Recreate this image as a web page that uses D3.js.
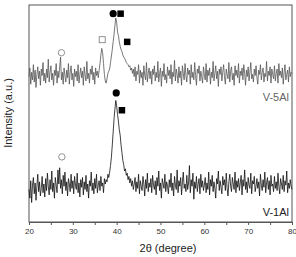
<!DOCTYPE html>
<head>
<meta charset="UTF-8">
<script src="https://d3js.org/d3.v7.min.js"></script>
<style>
  body { margin: 0; background: #fff; }
  text { font-family: "Liberation Sans", Arial, sans-serif; }
</style>
</head>
<body>
<div id="my_dataviz"></div>
<script>

// scan: 20 to 80 degrees, one reading every 0.2 degree
var angleStart = 20, angleStep = 0.2;

// V-1Al intensities (a.u.)
var v1Al = [
  30,22,38,18,34,41,26,36,20,33,44,28,37,24,31,42,27,35,23,40,
  29,45,33,25,39,30,47,28,36,22,41,34,27,48,35,50,31,39,26,43,
  33,46,29,37,24,40,35,28,44,31,38,26,42,34,30,45,27,36,23,39,
  32,41,25,37,30,43,28,35,22,38,33,46,29,36,26,40,31,44,27,34,
  38,29,42,33,36,27,40,35,39,37,44,41,46,52,60,71,83,95,104,112,
  107,99,93,85,80,71,64,57,53,47,49,43,45,39,42,36,40,33,38,30,
  35,41,28,37,31,44,26,38,33,29,42,35,24,39,31,45,28,36,32,40,
  27,43,34,30,38,25,41,33,47,29,36,22,40,35,31,44,28,37,33,26,
  39,32,45,29,36,24,42,34,30,48,27,38,33,41,25,37,46,31,35,28,
  43,30,36,52,27,39,33,45,21,37,31,42,28,35,40,26,44,32,38,29,
  34,41,27,36,30,46,25,39,33,43,28,37,31,22,40,35,47,29,38,32,
  26,42,34,39,29,45,31,24,37,44,33,28,41,35,30,46,27,38,32,40,
  29,36,43,25,39,33,48,30,37,27,41,34,31,45,26,38,35,42,28,33,
  40,31,37,24,44,34,29,39,32,46,27,36,41,30,38,25,43,33,35,28,
  42,31,37,29,45,33,26,40,35,30,43,28,38,34,47,27,36,31,39,33,
  30
];

// V-5Al intensities (a.u.), offset above V-1Al
var v5Al = [
  134,142,127,138,131,145,129,140,124,136,143,132,139,126,141,135,147,130,137,128,
  141,133,150,129,138,144,131,137,126,140,135,146,128,139,133,143,152,131,138,127,
  142,135,129,140,133,146,127,138,144,131,137,125,141,134,139,130,145,128,136,142,
  133,139,126,143,135,130,148,132,137,128,141,136,144,131,138,127,142,135,139,133,
  140,146,154,160,156,146,136,130,128,132,137,139,141,147,153,159,166,173,181,188,
  184,175,172,166,162,159,157,154,152,151,149,147,146,145,143,144,140,142,137,141,
  134,143,130,139,136,145,128,140,133,138,126,144,135,131,147,129,137,142,132,139,
  127,141,136,144,130,138,133,148,129,137,142,125,139,134,146,131,136,128,143,135,
  140,132,145,127,138,134,149,130,141,136,128,143,133,139,126,144,137,131,146,135,
  129,142,136,140,127,145,133,138,131,147,135,126,141,137,144,130,139,134,128,143,
  136,131,146,129,140,135,142,127,138,133,148,130,137,144,132,139,125,141,136,143,
  130,138,145,134,127,141,136,132,147,129,139,143,131,137,126,144,135,140,133,146,
  128,139,135,142,131,145,137,126,140,134,143,130,138,147,132,136,129,141,135,144,
  133,127,140,136,145,131,138,142,129,137,134,148,130,139,135,143,128,141,136,132,
  144,130,137,141,128,146,135,139,133,142,127,138,145,131,136,140,129,143,134,138,
  137
];

// phase markers: [angle, intensity, shape]
var markers5Al = [[27.4, 156, "openCircle"], [36.7, 168, "openSquare"], [39.2, 192, "circle"], [40.9, 192, "square"], [42.4, 166, "square"]];
var markers1Al = [[27.5, 60, "openCircle"], [39.9, 119, "circle"], [41.2, 103, "square"]];

var xTicks = [20, 25, 30, 35, 40, 45, 50, 55, 60, 65, 70, 75, 80];

var width = 296, height = 257;
var margin = {top: 5, right: 4, bottom: 35, left: 29};

var svg = d3.select("#my_dataviz")
  .append("svg")
    .attr("width", width)
    .attr("height", height);

var x = d3.scaleLinear().domain([20, 80]).range([margin.left, width - margin.right]);
var y = d3.scaleLinear().domain([0, 200]).range([height - margin.bottom, margin.top]);

// frame
svg.append("rect")
  .attr("x", x(20)).attr("y", y(200))
  .attr("width", x(80) - x(20)).attr("height", y(0) - y(200))
  .style("fill", "none").style("stroke", "#555").style("stroke-width", 1);

// x axis
var xAxis = svg.append("g")
  .attr("transform", "translate(0," + y(0) + ")")
  .call(d3.axisBottom(x).tickValues(xTicks).tickSize(3)
    .tickFormat(function(d) { return d % 10 === 0 ? d : ""; }));
xAxis.select(".domain").style("stroke", "#555");
xAxis.selectAll("line").style("stroke", "#555");
xAxis.selectAll("text")
  .style("font-family", "Liberation Sans, Arial, sans-serif")
  .style("font-size", "8px").style("fill", "#333")
  .attr("y", 6);

// line generator
var line = d3.line()
  .x(function(d, i) { return x(angleStart + i * angleStep); })
  .y(function(d) { return y(d); });

svg.append("path").datum(v5Al)
  .attr("d", line)
  .style("fill", "none").style("stroke", "#555").style("stroke-width", 0.8);

svg.append("path").datum(v1Al)
  .attr("d", line)
  .style("fill", "none").style("stroke", "#111").style("stroke-width", 0.8);

// markers
function drawMarkers(list) {
  list.forEach(function(m) {
    var cx = x(m[0]), cy = y(m[1]);
    if (m[2] === "circle" || m[2] === "openCircle") {
      svg.append("circle").attr("cx", cx).attr("cy", cy).attr("r", m[2] === "circle" ? 3.6 : 3.2)
        .style("fill", m[2] === "circle" ? "#000" : "none")
        .style("stroke", m[2] === "circle" ? "none" : "#777").style("stroke-width", 0.8);
    } else {
      var s = m[2] === "square" ? 6.5 : 6;
      svg.append("rect").attr("x", cx - s / 2).attr("y", cy - s / 2).attr("width", s).attr("height", s)
        .style("fill", m[2] === "square" ? "#000" : "none")
        .style("stroke", m[2] === "square" ? "none" : "#777").style("stroke-width", 0.8);
    }
  });
}
drawMarkers(markers5Al);
drawMarkers(markers1Al);

// series labels
svg.append("text").attr("x", x(80) - 3).attr("y", 101)
  .attr("text-anchor", "end").style("font-size", "11px").style("fill", "#666").text("V-5Al");
svg.append("text").attr("x", x(80) - 3).attr("y", 216)
  .attr("text-anchor", "end").style("font-size", "11px").style("fill", "#222").text("V-1Al");

// axis titles
svg.append("text").attr("x", 168).attr("y", 252)
  .attr("text-anchor", "middle").style("font-size", "11px").style("fill", "#222").text("2θ (degree)");
svg.append("text")
  .attr("transform", "translate(12," + 113 + ") rotate(-90)")
  .attr("text-anchor", "middle").style("font-size", "11px").style("fill", "#222").text("Intensity (a.u.)");

</script>
</body>
